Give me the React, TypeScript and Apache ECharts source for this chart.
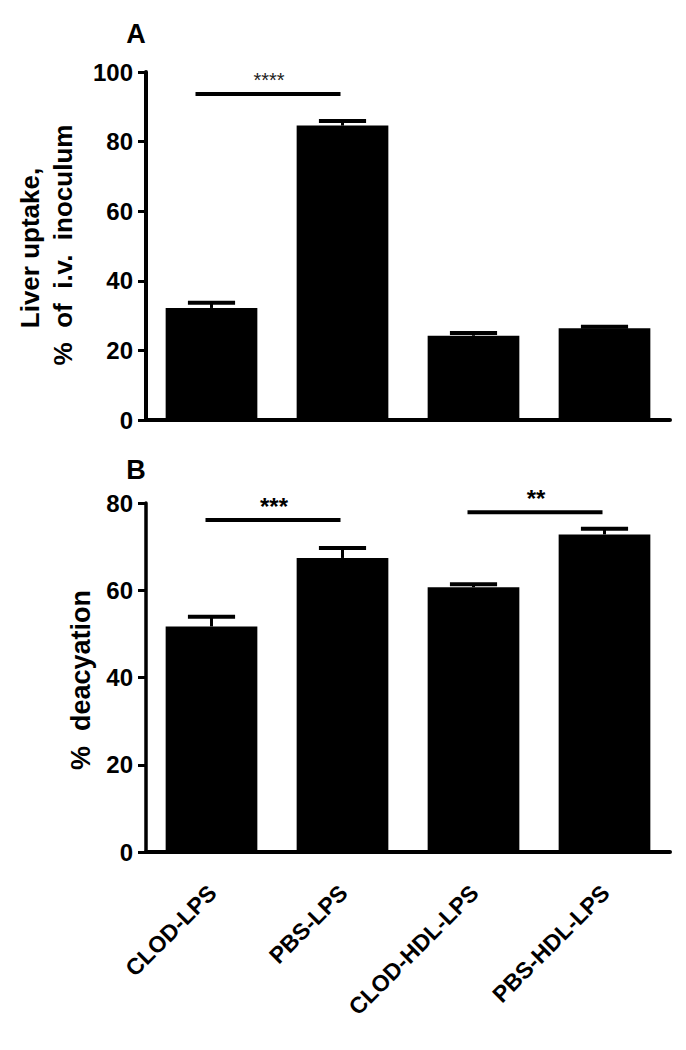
import React, { useEffect, useRef } from "react";
import * as echarts from "echarts";

const categories = ["CLOD-LPS", "PBS-LPS", "CLOD-HDL-LPS", "PBS-HDL-LPS"];

// Panel A: liver uptake (% of i.v. inoculum)
const liverUptake = [32.2, 84.6, 24.2, 26.4];
const liverUptakeErrTop = [33.7, 85.9, 25.0, 26.8];
const liverSigFrom = [0];
const liverSigTo = [1];
const liverSigY = [93.7];
const liverSigLabel = ["****"];
const liverTicks = { min: 0, max: 100, interval: 20 };

// Panel B: % deacylation
const deacylation = [51.7, 67.4, 60.7, 72.8];
const deacylationErrTop = [53.9, 69.7, 61.4, 74.1];
const deacSigFrom = [0, 2];
const deacSigTo = [1, 3];
const deacSigY = [76.1, 77.9];
const deacSigLabel = ["***", "**"];
const deacTicks = { min: 0, max: 80, interval: 20 };

const FONT = "'Liberation Sans', Arial, sans-serif";

function errRender(params: any, api: any) {
  const i = api.value(0);
  const v = api.value(1);
  const hi = api.value(2);
  const p0 = api.coord([i, v]);
  const p1 = api.coord([i, hi]);
  const bw = api.size([1, 0])[0];
  const cw = bw * 0.36;
  return {
    type: "group",
    children: [
      { type: "line", shape: { x1: p0[0], y1: p0[1], x2: p1[0], y2: p1[1] }, style: { stroke: "#000", lineWidth: 3 } },
      { type: "line", shape: { x1: p1[0] - cw / 2, y1: p1[1], x2: p1[0] + cw / 2, y2: p1[1] }, style: { stroke: "#000", lineWidth: 4 } },
    ],
  };
}

function makeSigRender(labels: string[], fontSize: number, weight: string, color: string, leftExt: number) {
  return (params: any, api: any) => {
    const a = api.coord([api.value(0), api.value(2)]);
    const b = api.coord([api.value(1), api.value(2)]);
    return {
      type: "group",
      children: [
        { type: "line", shape: { x1: a[0] - leftExt, y1: a[1], x2: b[0] - 2, y2: b[1] }, style: { stroke: "#000", lineWidth: 4 } },
        {
          type: "text",
          x: (a[0] - leftExt + b[0]) / 2,
          y: a[1] - 14,
          style: {
            text: labels[params.dataIndex],
            fontSize,
            fontWeight: weight,
            fontFamily: FONT,
            fill: color,
            align: "center",
            verticalAlign: "middle",
          },
        },
      ],
    };
  };
}

function catLabelRender(params: any, api: any) {
  const p = api.coord([api.value(0), 0]);
  return {
    type: "text",
    x: p[0] + 1,
    y: p[1] + 37,
    rotation: Math.PI / 4,
    style: {
      text: categories[params.dataIndex],
      fontSize: 23,
      fontWeight: "bold",
      fontFamily: FONT,
      fill: "#000",
      align: "right",
      verticalAlign: "middle",
    },
  };
}

export default function App() {
  const ref = useRef<HTMLDivElement>(null);
  useEffect(() => {
    if (!ref.current) return;
    const chart = echarts.init(ref.current, undefined, { renderer: "svg" });
    const axisLabelY = { fontSize: 24, fontWeight: "bold", fontFamily: FONT, color: "#000", margin: 13 };
    const option: any = {
      animation: false,
      backgroundColor: "#fff",
      grid: [
        { left: 146, right: 16, top: 72, height: 348 },
        { left: 146, right: 16, top: 503, height: 349 },
      ],
      xAxis: [
        {
          type: "category",
          gridIndex: 0,
          data: categories,
          axisLine: { lineStyle: { color: "#000", width: 4 } },
          axisTick: { alignWithLabel: true, length: 10, lineStyle: { color: "#000", width: 3 } },
          axisLabel: { show: false },
        },
        {
          type: "category",
          gridIndex: 1,
          data: categories,
          axisLine: { lineStyle: { color: "#000", width: 4 } },
          axisTick: { alignWithLabel: true, length: 10, lineStyle: { color: "#000", width: 3 } },
          axisLabel: { show: false },
        },
      ],
      yAxis: [
        {
          type: "value",
          gridIndex: 0,
          min: liverTicks.min,
          max: liverTicks.max,
          interval: liverTicks.interval,
          splitLine: { show: false },
          axisLine: { show: true, lineStyle: { color: "#000", width: 4 } },
          axisTick: { show: true, length: 8, lineStyle: { color: "#000", width: 3 } },
          axisLabel: axisLabelY,
        },
        {
          type: "value",
          gridIndex: 1,
          min: deacTicks.min,
          max: deacTicks.max,
          interval: deacTicks.interval,
          splitLine: { show: false },
          axisLine: { show: true, lineStyle: { color: "#000", width: 3.5 } },
          axisTick: { show: true, length: 8, lineStyle: { color: "#000", width: 3 } },
          axisLabel: axisLabelY,
        },
      ],
      series: [
        {
          type: "bar",
          xAxisIndex: 0,
          yAxisIndex: 0,
          data: liverUptake,
          barCategoryGap: "30%",
          itemStyle: { color: "#000" },
        },
        {
          type: "custom",
          xAxisIndex: 0,
          yAxisIndex: 0,
          z: 5,
          renderItem: errRender,
          data: liverUptake.map((v, i) => [i, v, liverUptakeErrTop[i]]),
        },
        {
          type: "custom",
          xAxisIndex: 0,
          yAxisIndex: 0,
          z: 5,
          renderItem: makeSigRender(liverSigLabel, 20, "normal", "#222", 16),
          data: liverSigFrom.map((f, i) => [f, liverSigTo[i], liverSigY[i]]),
        },
        {
          type: "bar",
          xAxisIndex: 1,
          yAxisIndex: 1,
          data: deacylation,
          barCategoryGap: "30%",
          itemStyle: { color: "#000" },
        },
        {
          type: "custom",
          xAxisIndex: 1,
          yAxisIndex: 1,
          z: 5,
          renderItem: errRender,
          data: deacylation.map((v, i) => [i, v, deacylationErrTop[i]]),
        },
        {
          type: "custom",
          xAxisIndex: 1,
          yAxisIndex: 1,
          z: 5,
          renderItem: makeSigRender(deacSigLabel, 24, "bold", "#000", 6),
          data: deacSigFrom.map((f, i) => [f, deacSigTo[i], deacSigY[i]]),
        },
        {
          type: "custom",
          xAxisIndex: 1,
          yAxisIndex: 1,
          z: 5,
          clip: false,
          renderItem: catLabelRender,
          data: categories.map((c, i) => [i, 0]),
        },
      ],
      graphic: [
        {
          type: "text",
          x: 136,
          y: 34,
          style: { text: "A", fontSize: 27, fontWeight: "bold", fontFamily: FONT, fill: "#000", align: "center", verticalAlign: "middle" },
        },
        {
          type: "text",
          x: 136,
          y: 470,
          style: { text: "B", fontSize: 27, fontWeight: "bold", fontFamily: FONT, fill: "#000", align: "center", verticalAlign: "middle" },
        },
        {
          type: "text",
          x: 30,
          y: 248,
          rotation: Math.PI / 2,
          style: { text: "Liver uptake,", fontSize: 26, fontWeight: "bold", fontFamily: FONT, fill: "#000", align: "center", verticalAlign: "middle" },
        },
        {
          type: "text",
          x: 63,
          y: 245,
          rotation: Math.PI / 2,
          style: { text: "%  of  i.v.  inoculum", fontSize: 26, fontWeight: "bold", fontFamily: FONT, fill: "#000", align: "center", verticalAlign: "middle" },
        },
        {
          type: "text",
          x: 81,
          y: 680,
          rotation: Math.PI / 2,
          style: { text: "%  deacyation", fontSize: 27, fontWeight: "bold", fontFamily: FONT, fill: "#000", align: "center", verticalAlign: "middle" },
        },
      ],
    };
    chart.setOption(option);
    return () => chart.dispose();
  }, []);
  return <div ref={ref} style={{ position: "absolute", left: 0, top: 0, width: 686, height: 1050, background: "#fff" }} />;
}
